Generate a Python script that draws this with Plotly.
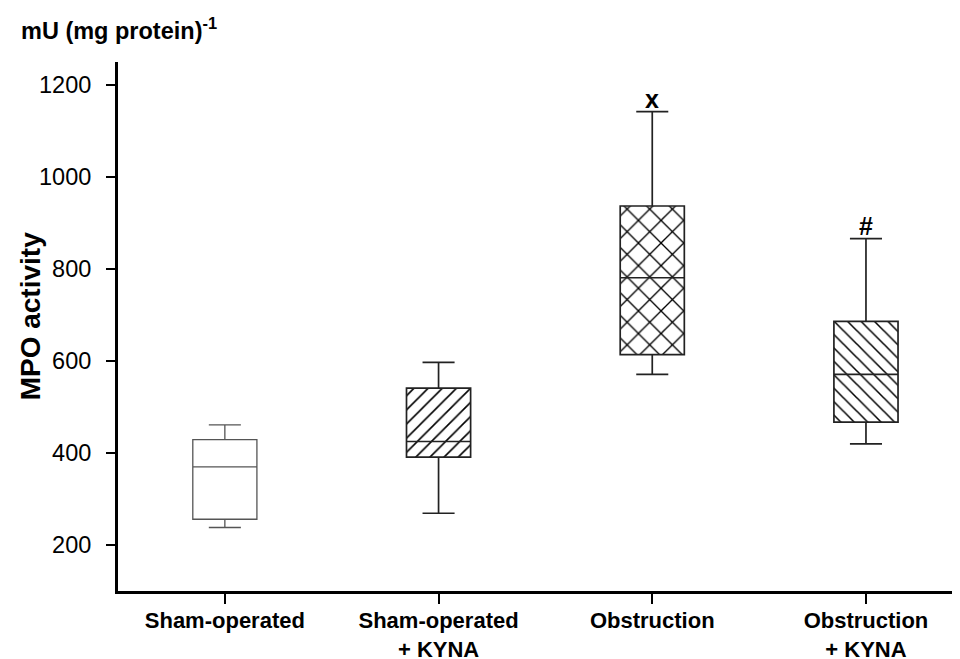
import plotly.graph_objects as go

categories = ["Sham-operated", "Sham-operated<br>+ KYNA", "Obstruction", "Obstruction<br>+ KYNA"]
lower_whisker = [238, 269, 571, 420]
q1_values = [256, 391, 614, 467]
median_values = [370, 425, 781, 571]
q3_values = [429, 541, 937, 686]
upper_whisker = [461, 597, 1142, 866]
significance = ["", "", "x", "#"]
y_ticks = [200, 400, 600, 800, 1000, 1200]

patterns = ["", "/", "x", "\\"]
pattern_sizes = [8, 10, 16, 9.5]
line_colors = ["#555555", "#222222", "#222222", "#222222"]
line_widths = [1.3, 1.7, 1.7, 1.7]
BOX_W = 0.3
FONT = "Liberation Sans, Arial, sans-serif"

fig = go.Figure()

# patterned box bodies
fig.add_trace(go.Bar(
    x=categories,
    y=[q3 - q1 for q1, q3 in zip(q1_values, q3_values)],
    base=q1_values,
    width=BOX_W,
    marker=dict(
        color="white",
        line=dict(width=0),
        pattern=dict(shape=patterns, size=pattern_sizes, solidity=0.16,
                     fgcolor="black", bgcolor="white", fillmode="replace"),
    ),
    showlegend=False, hoverinfo="skip",
))

for i, cat in enumerate(categories):
    fig.add_trace(go.Box(
        x=[cat],
        q1=[q1_values[i]], median=[median_values[i]], q3=[q3_values[i]],
        lowerfence=[lower_whisker[i]], upperfence=[upper_whisker[i]],
        width=BOX_W, whiskerwidth=0.5,
        fillcolor="rgba(0,0,0,0)",
        line=dict(color=line_colors[i], width=line_widths[i]),
        boxpoints=False, showlegend=False,
    ))

for i, s in enumerate(significance):
    if s:
        fig.add_annotation(x=categories[i], y=upper_whisker[i], text="<b>%s</b>" % s,
                           showarrow=False, yanchor="bottom", yshift=-3,
                           font=dict(family=FONT, size=25, color="black"))

fig.add_annotation(xref="paper", yref="paper", x=-0.104, y=0.52, text="<b>MPO activity</b>",
                   textangle=-90, showarrow=False, xanchor="center", yanchor="middle",
                   font=dict(family=FONT, size=28, color="black"))
fig.add_annotation(xref="paper", yref="paper", x=-0.117, y=1.0, yshift=16,
                   text="<b>mU (mg protein)<sup>-1</sup></b>",
                   showarrow=False, xanchor="left", yanchor="bottom",
                   font=dict(family=FONT, size=23.5, color="black"))

# page body has an 8px margin, so the figure's own margins are offset by 8px
fig.update_layout(
    width=960, height=659,
    margin=dict(l=110, r=8, t=54, b=76, autoexpand=False),
    paper_bgcolor="white", plot_bgcolor="white",
    boxmode="overlay", bargap=0,
    font=dict(family=FONT, color="black"),
)
fig.update_xaxes(
    type="category", range=[-0.5, 3.44], automargin=False,
    showline=True, linecolor="black", linewidth=3,
    ticks="outside", ticklen=10, tickwidth=2, tickcolor="black",
    ticklabelstandoff=-2,
    tickfont=dict(family=FONT, size=22, color="black"),
    tickvals=categories, ticktext=["<b>%s</b>" % c for c in categories],
    showgrid=False, zeroline=False,
)
fig.update_yaxes(
    range=[100, 1250], tickvals=y_ticks, automargin=False,
    showline=True, linecolor="black", linewidth=3,
    ticks="outside", ticklen=9, tickwidth=2, tickcolor="black",
    ticklabelstandoff=10,
    tickfont=dict(family=FONT, size=23.5, color="black"),
    showgrid=False, zeroline=False,
)

fig.write_html("out.html")
